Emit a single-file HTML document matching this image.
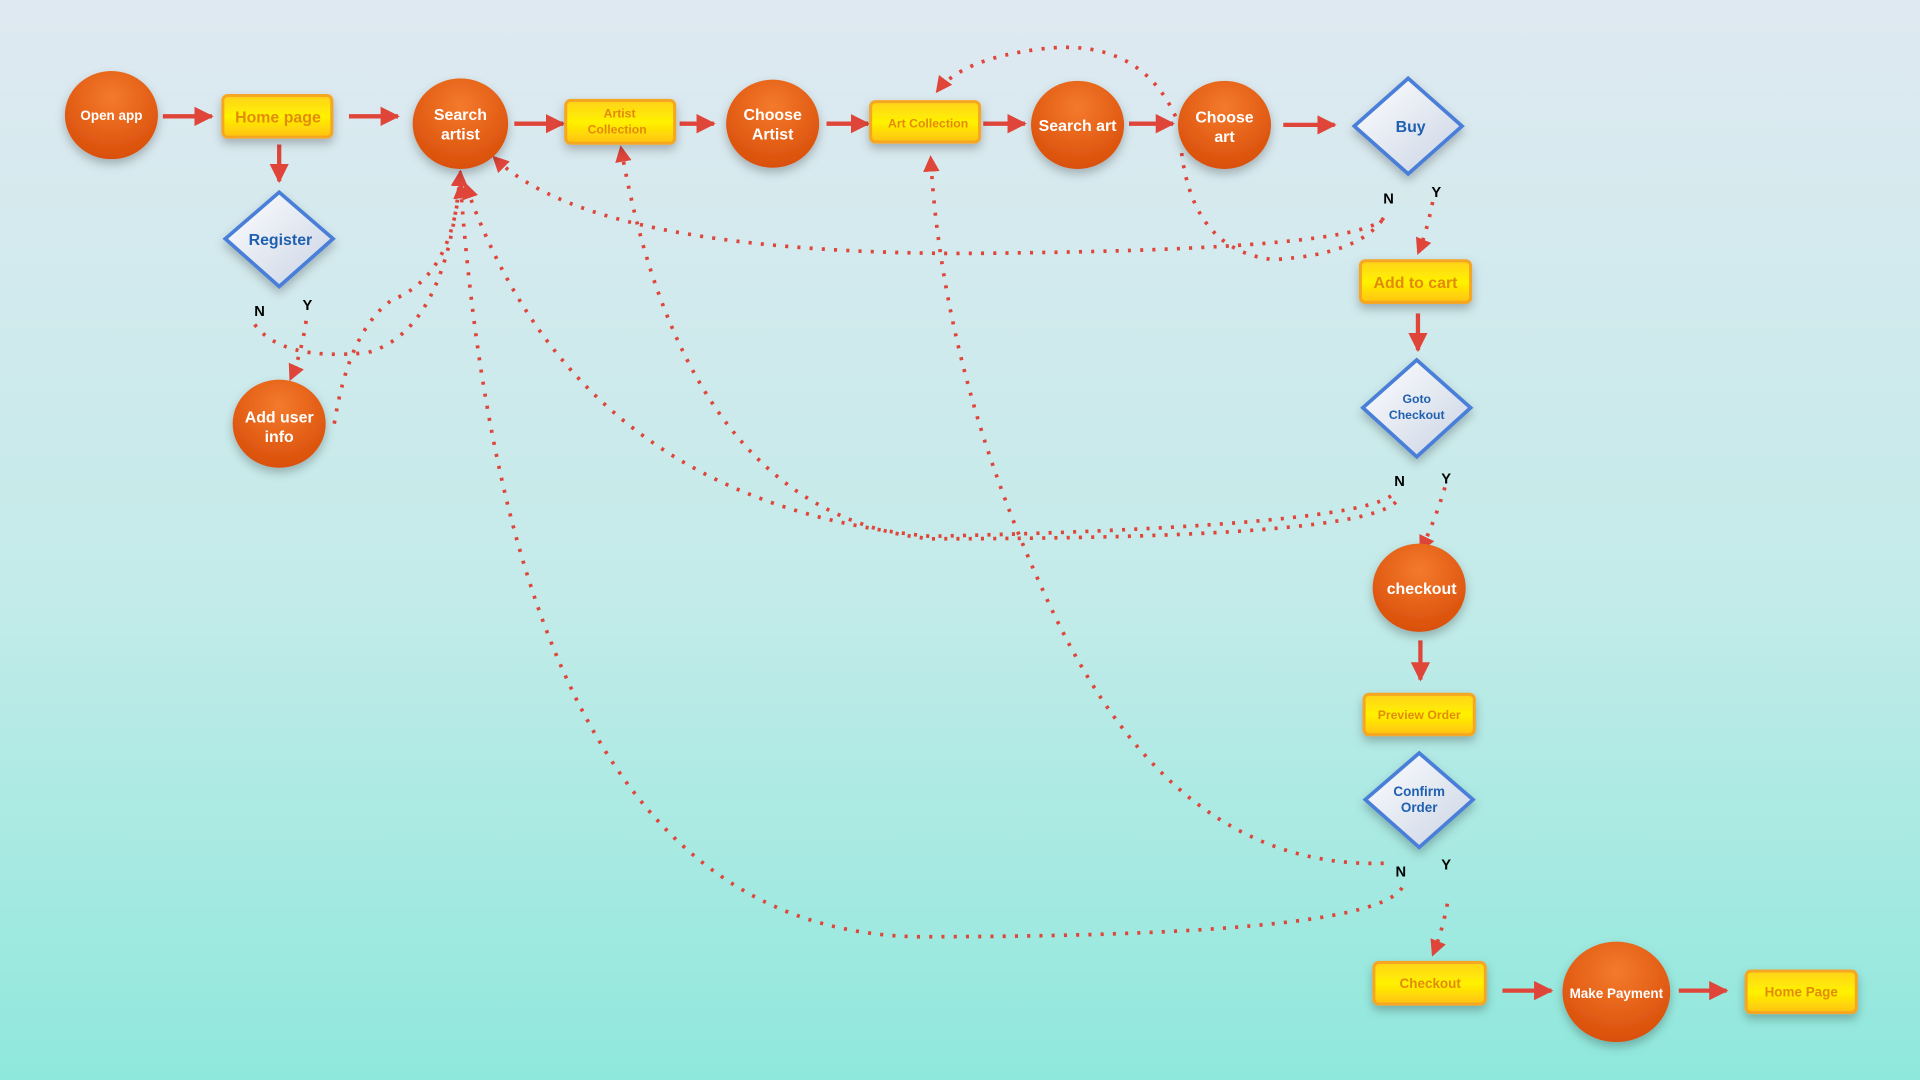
<!DOCTYPE html>
<html><head><meta charset="utf-8"><style>
html,body{margin:0;padding:0;width:1920px;height:1080px;overflow:hidden}
body{background:linear-gradient(180deg,#dfe9f1 0%,#c3ebe9 55%,#8fe8dc 100%)}
svg{display:block}
text{font-family:"Liberation Sans",sans-serif;font-weight:bold;text-anchor:middle}
</style></head><body>
<svg width="1920" height="1080" viewBox="0 0 1568 882" xmlns="http://www.w3.org/2000/svg">
<defs>
<radialGradient id="org" cx="50%" cy="30%" r="70%"><stop offset="0" stop-color="#f47a2c"/><stop offset="1" stop-color="#d94f0a"/></radialGradient>
<linearGradient id="yel" x1="0" y1="0" x2="0" y2="1"><stop offset="0" stop-color="#ffd21a"/><stop offset=".5" stop-color="#fff200"/><stop offset="1" stop-color="#ffc20e"/></linearGradient>
<linearGradient id="dia" x1="0" y1="0" x2="1" y2="1"><stop offset="0" stop-color="#ffffff"/><stop offset="1" stop-color="#c9d3e4"/></linearGradient>
<marker id="ah" viewBox="0 0 10 10" refX="9" refY="5" markerWidth="4.5" markerHeight="4.5" orient="auto"><path d="M0,0L10,5L0,10z" fill="#e0453a"/></marker>
<filter id="sh" x="-30%" y="-30%" width="160%" height="160%"><feDropShadow dx="0" dy="4" stdDeviation="4" flood-opacity=".25"/></filter>
</defs>

<g stroke="#e0453a" stroke-width="3.5" fill="none" marker-end="url(#ah)">
<path d="M133,95H173"/><path d="M285,95H325"/><path d="M228,118V148"/>
<path d="M420,101H460"/><path d="M555,101H583"/><path d="M675,101H709"/>
<path d="M803,101H837"/><path d="M922,101H958"/><path d="M1048,102H1090"/>
<path d="M1158,256V286"/><path d="M1160,523V555"/>
<path d="M1227,809H1267"/><path d="M1371,809H1410"/>
</g>

<g stroke="#e0453a" stroke-width="3" fill="none" stroke-dasharray="2.5 7.5" marker-end="url(#ah)">
<path d="M250,262Q246,290 237,310"/>
<path d="M208,265Q230,295 300,288Q365,270 376,140"/>
<path d="M273,346Q285,270 320,245Q372,225 376,140"/>
<path d="M1130,178Q1110,205 780,207Q480,205 403,128"/>
<path d="M965,125Q975,205 1040,212Q1110,208 1130,178" marker-end="none"/>
<path d="M1170,165Q1165,190 1158,207"/>
<path d="M960,95Q930,30 850,40Q785,48 765,75"/>
<path d="M1140,410Q1110,440 760,440Q560,420 507,120"/>
<path d="M1136,405Q1100,430 760,438Q470,410 380,150"/>
<path d="M1180,398Q1172,425 1160,450"/>
<path d="M1130,705Q960,710 860,500Q770,310 760,128"/>
<path d="M1145,725Q1120,765 750,765Q420,760 376,150"/>
<path d="M1182,738Q1178,760 1170,780"/>
</g>

<g filter="url(#sh)">
<g fill="url(#org)">
<ellipse cx="91" cy="94" rx="38" ry="36"/>
<ellipse cx="228" cy="346" rx="38" ry="36"/>
<ellipse cx="376" cy="101" rx="39" ry="37"/>
<ellipse cx="631" cy="101" rx="38" ry="36"/>
<ellipse cx="880" cy="102" rx="38" ry="36"/>
<ellipse cx="1000" cy="102" rx="38" ry="36"/>
<ellipse cx="1159" cy="480" rx="38" ry="36"/>
<ellipse cx="1320" cy="810" rx="44" ry="41"/>
</g>
<g fill="url(#yel)" stroke="#f5a623" stroke-width="2.5">
<rect x="182" y="78" width="89" height="34" rx="4"/>
<rect x="462" y="82" width="89" height="35" rx="4"/>
<rect x="711" y="83" width="89" height="33" rx="4"/>
<rect x="1111" y="213" width="90" height="34" rx="4"/>
<rect x="1114" y="567" width="90" height="33" rx="4"/>
<rect x="1122" y="786" width="91" height="34" rx="4"/>
<rect x="1426" y="793" width="90" height="34" rx="4"/>
</g>
<g fill="url(#dia)" stroke="#4a7fd8" stroke-width="3">
<path d="M228,157L272,195L228,234L184,195Z"/>
<path d="M1150,64L1194,103L1150,142L1106,103Z"/>
<path d="M1157,294L1201,333L1157,373L1113,333Z"/>
<path d="M1159,615L1203,653L1159,692L1115,653Z"/>
</g>
</g>

<g fill="#fff">
<text x="91" y="98" font-size="11">Open app</text>
<text x="228" y="345" font-size="13">Add user</text><text x="228" y="361" font-size="13">info</text>
<text x="376" y="98" font-size="13">Search</text><text x="376" y="114" font-size="13">artist</text>
<text x="631" y="98" font-size="13">Choose</text><text x="631" y="114" font-size="13">Artist</text>
<text x="880" y="107" font-size="13">Search  art</text>
<text x="1000" y="100" font-size="13">Choose</text><text x="1000" y="116" font-size="13">art</text>
<text x="1161" y="485" font-size="13">checkout</text>
<text x="1320" y="815" font-size="11">Make Payment</text>
</g>
<g fill="#e38a0c">
<text x="227" y="100" font-size="13">Home page</text>
<text x="506" y="96" font-size="10">Artist</text><text x="504" y="109" font-size="10">Collection</text>
<text x="758" y="104" font-size="10">Art Collection</text>
<text x="1156" y="235" font-size="13">Add to cart</text>
<text x="1159" y="587" font-size="10">Preview Order</text>
<text x="1168" y="807" font-size="11">Checkout</text>
<text x="1471" y="814" font-size="11">Home Page</text>
</g>
<g fill="#2060b0">
<text x="229" y="200" font-size="13">Register</text>
<text x="1152" y="108" font-size="13">Buy</text>
<text x="1157" y="329" font-size="10">Goto</text><text x="1157" y="342" font-size="10">Checkout</text>
<text x="1159" y="650" font-size="11">Confirm</text><text x="1159" y="663" font-size="11">Order</text>
</g>
<g fill="#000" font-size="12">
<text x="212" y="258">N</text><text x="251" y="253">Y</text>
<text x="1134" y="166">N</text><text x="1173" y="161">Y</text>
<text x="1143" y="397">N</text><text x="1181" y="395">Y</text>
<text x="1144" y="716">N</text><text x="1181" y="710">Y</text>
</g>
</svg>
</body></html>
